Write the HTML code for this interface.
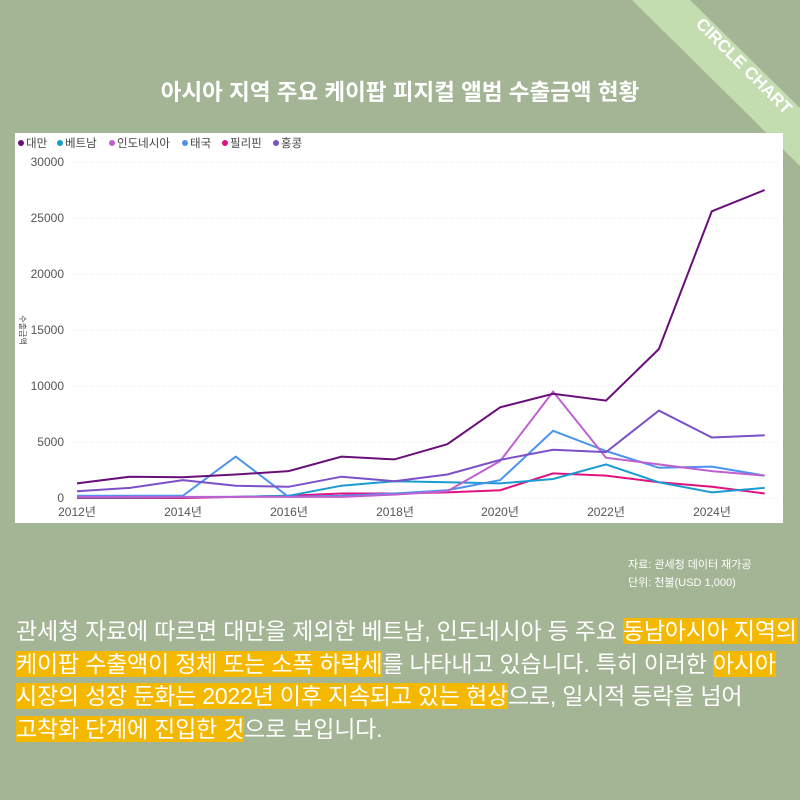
<!DOCTYPE html><html><head><meta charset="utf-8"><style>
body{margin:0;width:800px;height:800px;background:#a3b594;position:relative;overflow:hidden;font-family:"Liberation Sans","Noto Sans CJK KR",sans-serif}
.t{position:absolute;top:75px;left:0;width:800px;text-align:center;color:#fff;font-size:22.5px;font-weight:bold}
.box{position:absolute;left:15px;top:133px;width:768px;height:390px;background:#fff}
.src{position:absolute;left:628px;top:556px;color:#fff;font-size:11px;line-height:18px}
.p{position:absolute;left:16px;top:615px;width:790px;color:#fff;font-size:23px;line-height:32.5px;letter-spacing:-0.2px;white-space:nowrap}
.h{background:#f5b800}
</style></head><body>
<svg width="800" height="800" style="position:absolute;left:0;top:0">
<polygon points="632,0,690,0,800,108,800,166" fill="#c3dcb0"/>
<text x="0" y="0" transform="translate(740,70) rotate(45)" text-anchor="middle" fill="#fff" font-size="17" font-weight="bold" font-family="Liberation Sans,sans-serif">CIRCLE CHART</text>
</svg>
<div class="t">아시아 지역 주요 케이팝 피지컬 앨범 수출금액 현황</div>
<div class="box"></div>
<svg width="800" height="800" style="position:absolute;left:0;top:0" font-family="Liberation Sans,Noto Sans CJK KR,sans-serif">
<g font-size="11.5" fill="#444">
<circle cx="21" cy="143" r="3" fill="#6a0f7a"/><text x="26" y="147">대만</text>
<circle cx="60" cy="143" r="3" fill="#1a9bd1"/><text x="65" y="147">베트남</text>
<circle cx="112" cy="143" r="3" fill="#c060d0"/><text x="117" y="147">인도네시아</text>
<circle cx="185" cy="143" r="3" fill="#4c93f0"/><text x="190" y="147">태국</text>
<circle cx="225" cy="143" r="3" fill="#e0127f"/><text x="230" y="147">필리핀</text>
<circle cx="276" cy="143" r="3" fill="#7b50c8"/><text x="281" y="147">홍콩</text>
</g>
<g stroke="#e6e6e6" stroke-dasharray="1,2"><line x1="72" x2="780" y1="162" y2="162"/><line x1="72" x2="780" y1="218" y2="218"/><line x1="72" x2="780" y1="274" y2="274"/><line x1="72" x2="780" y1="330" y2="330"/><line x1="72" x2="780" y1="386" y2="386"/><line x1="72" x2="780" y1="442" y2="442"/><line x1="72" x2="780" y1="498" y2="498"/></g>
<g font-size="12" fill="#555" text-anchor="end"><text x="64" y="166">30000</text><text x="64" y="222">25000</text><text x="64" y="278">20000</text><text x="64" y="334">15000</text><text x="64" y="390">10000</text><text x="64" y="446">5000</text><text x="64" y="502">0</text></g>
<text transform="translate(20,330) rotate(90)" font-size="8" fill="#444" text-anchor="middle">수출금액</text>
<g font-size="12" fill="#555" text-anchor="middle"><text x="77" y="516">2012년</text><text x="183" y="516">2014년</text><text x="289" y="516">2016년</text><text x="395" y="516">2018년</text><text x="500" y="516">2020년</text><text x="606" y="516">2022년</text><text x="712" y="516">2024년</text></g>
<g fill="none" stroke-width="2">
<polyline id="a" stroke="#e0127f" points=""/>
</g>
</svg>
<div class="src">자료: 관세청 데이터 재가공<br>단위: 천불(USD 1,000)</div>
<div class="p">관세청 자료에 따르면 대만을 제외한 베트남, 인도네시아 등 주요 <span class="h">동남아시아 지역의<br>케이팝 수출액이 정체 또는 소폭 하락세</span>를 나타내고 있습니다. 특히 이러한 <span class="h">아시아<br>시장의 성장 둔화는 2022년 이후 지속되고 있는 현상</span>으로, 일시적 등락을 넘어<br><span class="h">고착화 단계에 진입한 것</span>으로 보입니다.</div>
<script>
var d={"#e0127f":[0,0,0,100,200,400,400,500,700,2200,2000,1400,1000,400],
"#1a9bd1":[50,50,80,100,200,1100,1500,1400,1300,1700,3000,1400,500,900],
"#4c93f0":[200,200,200,3700,100,200,400,700,1600,6000,4200,2700,2800,2000],
"#c060d0":[100,100,100,100,100,100,300,600,3300,9500,3600,3000,2400,2000],
"#7b50c8":[600,900,1600,1100,1000,1900,1500,2100,3400,4300,4100,7800,5400,5600],
"#6a0f7a":[1300,1900,1850,2100,2400,3700,3450,4800,8100,9300,8700,13300,25600,27500]};
var g=document.getElementById('a').parentNode;g.innerHTML='';
for(var c in d){var p=d[c].map(function(v,i){return (77+i*52.9).toFixed(1)+','+(498-v*0.0112).toFixed(1)}).join(' ');
var e=document.createElementNS('http://www.w3.org/2000/svg','polyline');e.setAttribute('points',p);e.setAttribute('stroke',c);g.appendChild(e);}
</script>
</body></html>
